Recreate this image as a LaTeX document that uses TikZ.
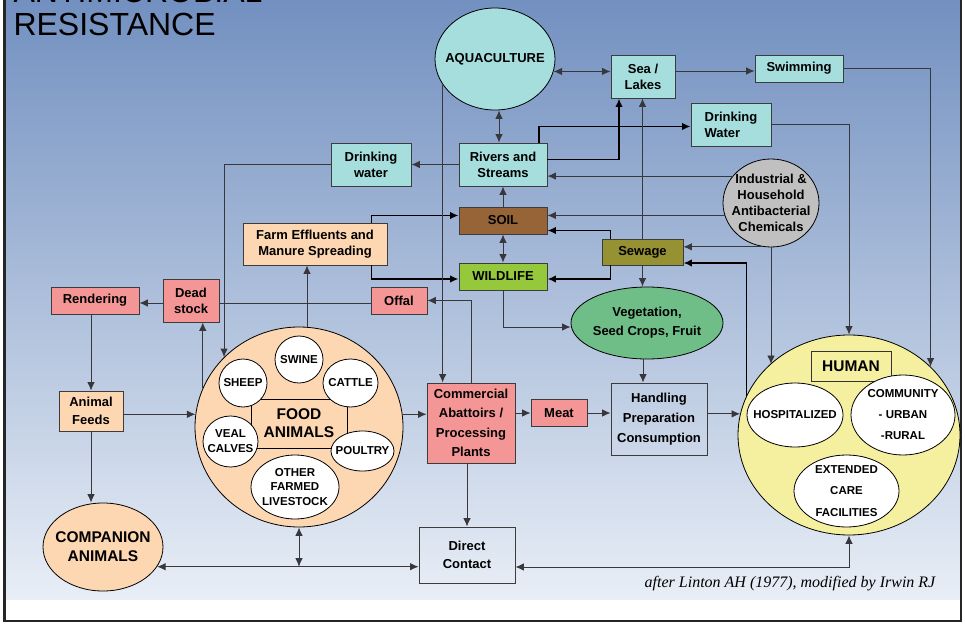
\documentclass[tikz,border=0pt]{standalone}
\usepackage{fontspec}
\setmainfont{Liberation Sans}
\newfontfamily\creditfont{Liberation Serif}
\usetikzlibrary{arrows.meta,positioning,shapes.geometric}

\definecolor{bgtop}{RGB}{114,144,192}
\definecolor{bgbot}{RGB}{232,238,246}
\definecolor{boxline}{RGB}{60,60,60}
\definecolor{linkgray}{RGB}{55,55,60}
\definecolor{cyanfill}{RGB}{166,221,221}
\definecolor{pinkfill}{RGB}{245,150,150}
\definecolor{peachfill}{RGB}{252,215,178}
\definecolor{soilfill}{RGB}{150,100,55}
\definecolor{sewfill}{RGB}{150,145,50}
\definecolor{wildfill}{RGB}{150,200,60}
\definecolor{vegfill}{RGB}{112,190,135}
\definecolor{indfill}{RGB}{192,192,192}
\definecolor{humfill}{RGB}{245,240,160}

\begin{document}
\begin{tikzpicture}[x=1pt, y=-1pt,
    box/.style={rectangle, draw=boxline, line width=0.9pt, inner sep=0pt,
        align=center, font=\bfseries\fontsize{13}{16}\selectfont},
    oval/.style={ellipse, draw=black, line width=0.8pt, inner sep=-40pt,
        align=center, font=\bfseries\fontsize{13}{16}\selectfont},
    animal/.style={oval, fill=white,
        font=\bfseries\fontsize{11.5}{14.5}\selectfont},
    link/.style={draw=linkgray, line width=0.9pt,
        -{Latex[length=8.5pt,width=7.5pt]}},
    twoway/.style={link, {Latex[length=8.5pt,width=7.5pt]}-{Latex[length=8.5pt,width=7.5pt]}},
    heavy/.style={link, draw=black, line width=1.8pt},
    ]

    \useasboundingbox (0,0) rectangle (965,628);
    \clip (0,0) rectangle (965,628);
    \fill[white] (0,0) rectangle (965,628);
    \shade[top color=bgtop, bottom color=bgbot] (5,0) rectangle (960,599);
    \draw[line width=2.2pt, black!85] (4.5,0) -- (4.5,621) -- (961,621) -- (961,0);

    \node[anchor=base west, font=\fontsize{32}{34}\selectfont] (title) at (10,3) {ANTIMICROBIAL};
    \node[anchor=base west, font=\fontsize{32}{34}\selectfont] (title2) at (10,36) {RESISTANCE};

    % water
    \node[oval, fill=cyanfill, minimum width=120pt, minimum height=102pt] (aqua) at (495,59) {AQUACULTURE};
    \node[box, fill=cyanfill, minimum width=64pt, minimum height=43pt] (sea) at (643,76.5) {Sea /\\Lakes};
    \node[box, fill=cyanfill, minimum width=88pt, minimum height=27pt] (swim) at (799,68.5) {Swimming};
    \node[box, fill=cyanfill, minimum width=80pt, minimum height=43pt, align=left] (dwr) at (731,124.5) {Drinking\\Water};
    \node[box, fill=cyanfill, minimum width=88pt, minimum height=43pt] (rivers) at (503,164.5) {Rivers and\\Streams};
    \node[box, fill=cyanfill, minimum width=80pt, minimum height=43pt] (dwl) at (371,164.5) {Drinking\\water};
    \node[oval, fill=indfill, minimum width=96pt, minimum height=88pt] (ind) at (771,203) {Industrial \&\\Household\\Antibacterial\\Chemicals};

    % environment
    \node[box, fill=soilfill, minimum width=88pt, minimum height=27pt] (soil) at (503,220.5) {SOIL};
    \node[box, fill=sewfill, minimum width=81pt, minimum height=26pt] (sewage) at (642.5,252) {Sewage};
    \node[box, fill=wildfill, minimum width=88pt, minimum height=27pt] (wild) at (503,276.5) {WILDLIFE};
    \node[box, fill=peachfill, minimum width=144pt, minimum height=42pt] (farm) at (315,244) {Farm Effluents and\\Manure Spreading};
    \node[box, fill=pinkfill, minimum width=88pt, minimum height=27pt] (rend) at (95,300.5) {Rendering};
    \node[box, fill=pinkfill, minimum width=56pt, minimum height=43pt] (dead) at (191,300.5) {Dead\\stock};
    \node[box, fill=pinkfill, minimum width=56pt, minimum height=27pt] (offal) at (399,300.5) {Offal};
    \node[oval, fill=vegfill, minimum width=152pt, minimum height=72pt,
        font=\bfseries\fontsize{13}{19}\selectfont] (veg) at (647,323) {Vegetation,\\Seed Crops, Fruit};

    % food animals
    \node[oval, fill=peachfill, minimum width=208pt, minimum height=200pt] (food) at (299,427) {};
    \node[draw=black, line width=0.8pt, inner sep=0pt, minimum width=96pt, minimum height=49pt,
        align=center, font=\bfseries\fontsize{15.5}{18}\selectfont] (foodlbl) at (299,423.5) {FOOD\\ANIMALS};
    \node[animal, minimum width=48pt, minimum height=47pt] (swine) at (299,359.5) {SWINE};
    \node[animal, minimum width=48pt, minimum height=48pt] (sheep) at (243,383) {SHEEP};
    \node[animal, minimum width=55pt, minimum height=48pt] (cattle) at (350.5,383) {CATTLE};
    \node[animal, minimum width=55pt, minimum height=51pt, font=\bfseries\fontsize{11.5}{15}\selectfont] (veal) at (230.5,441.5) {VEAL\\CALVES};
    \node[animal, minimum width=63pt, minimum height=40pt] (poultry) at (362.5,451) {POULTRY};
    \node[animal, minimum width=88pt, minimum height=64pt] (other) at (295,487) {OTHER\\FARMED\\LIVESTOCK};

    \node[box, fill=peachfill, minimum width=64pt, minimum height=40pt,
        font=\bfseries\fontsize{13}{18}\selectfont] (feeds) at (91,411) {Animal\\Feeds};
    \node[oval, fill=peachfill, minimum width=120pt, minimum height=88pt,
        font=\bfseries\fontsize{15.5}{19}\selectfont] (comp) at (103,547) {COMPANION\\ANIMALS};
    \node[box, fill=pinkfill, minimum width=88pt, minimum height=80pt,
        font=\bfseries\fontsize{13}{19.5}\selectfont] (abat) at (471,423) {Commercial\\Abattoirs /\\Processing\\Plants};
    \node[box, fill=pinkfill, minimum width=56pt, minimum height=27pt] (meat) at (559,413) {Meat};
    \node[box, minimum width=96pt, minimum height=72pt,
        font=\bfseries\fontsize{13}{20}\selectfont] (handl) at (659,419) {Handling\\Preparation\\Consumption};
    \node[box, minimum width=96pt, minimum height=56pt,
        font=\bfseries\fontsize{13}{18}\selectfont] (direct) at (467,555) {Direct\\Contact};

    % human
    \node[oval, fill=humfill, minimum width=222pt, minimum height=200pt] (human) at (849,435) {};
    \node[box, fill=humfill, draw=black!80, minimum width=80pt, minimum height=30pt,
        font=\bfseries\fontsize{15.5}{18}\selectfont] (humanlbl) at (851,366) {HUMAN};
    \node[animal, minimum width=96pt, minimum height=64pt] (hosp) at (795,415) {HOSPITALIZED};
    \node[animal, minimum width=104pt, minimum height=80pt,
        font=\bfseries\fontsize{11.5}{21}\selectfont] (comm) at (903,415) {COMMUNITY\\- URBAN\\-RURAL};
    \node[animal, minimum width=105pt, minimum height=72pt,
        font=\bfseries\fontsize{11.5}{21.5}\selectfont] (ext) at (846.5,491) {EXTENDED\\CARE\\FACILITIES};

    \node[anchor=base, font=\creditfont\itshape\fontsize{16}{19}\selectfont] (credit) at (790,587)
        {after Linton AH (1977), modified by Irwin RJ};

    % water links
    \draw[twoway] (aqua.348) -- (aqua.348 -| sea.west);
    \draw[link] ([yshift=5.5pt]sea.east) -- ([yshift=5.5pt]sea.east -| swim.west);
    \draw[link] (swim.east) -| (human.40);
    \draw[link] (dwr.east) -| (human.north);
    \draw[link] (ind.south) -- (ind.south |- human.138);
    \draw[twoway] ([xshift=-4pt]rivers.north) -- ([xshift=-4pt]rivers.north |- aqua.south);
    \draw[heavy] ([yshift=5pt]rivers.east) -| ([xshift=-24pt]sea.south);
    \draw[heavy] ([xshift=36pt]rivers.north) |- ([yshift=-2pt]dwr.west);
    \draw[link] (sewage.north) -- (sewage.north |- sea.south);
    \draw[link] (ind.145) -- (ind.145 -| rivers.east);
    \draw[link] (ind.195) -- (ind.195 -| soil.east);
    \draw[link] (ind.260) -- (ind.260 -| sewage.east);
    \draw[heavy] (human.159) |- ([yshift=-11pt]sewage.east);
    \draw[heavy] ([xshift=9pt]sewage.north west) |- ([yshift=-10pt]soil.east);
    \draw[heavy] ([xshift=9pt]sewage.south west) |- ([yshift=-2.5pt]wild.east);
    \draw[link] (soil.north) -- (rivers.south);
    \draw[twoway] (soil.south) -- (wild.north);
    \draw[link] (rivers.west) -- (dwl.east);
    \draw[link] (dwl.west) -| (food.137);

    % farm links
    \draw[heavy] ([xshift=-16pt]farm.north east) |- ([yshift=5pt]soil.west);
    \draw[heavy] ([xshift=-16pt]farm.south east) |- ([yshift=-2.5pt]wild.west);
    \draw[link] ([xshift=-8pt]farm.south |- food.north) -- ([xshift=-8pt]farm.south);
    \draw[link] (food.158) -- (food.158 |- dead.south);
    \draw[draw=linkgray, line width=0.9pt] ([yshift=-2.5pt]offal.west) -- ([yshift=-2.5pt]dead.east);
    \draw[link] ([yshift=-2.5pt]dead.west) -- ([yshift=-2.5pt]rend.east);
    \draw[link] (abat.north) |- (offal.east);
    \draw[link] (aqua.206) -- (aqua.206 |- abat.north);
    \draw[link] (feeds.north |- rend.south) -- (feeds.north);
    \draw[link] (feeds.east |- food.173) -- (food.173);
    \draw[link] (feeds.south) -- (feeds.south |- comp.north);
    \draw[link] (food.7) -- (food.7 -| abat.west);
    \draw[link] (meat.west -| abat.east) -- (meat.west);
    \draw[link] (meat.east) -- (meat.east -| handl.west);
    \draw[link] (human.169 -| handl.east) -- (human.169);
    \draw[link] (sewage.south) -- (sewage.south |- veg.north);
    \draw[link] ([xshift=-4pt]veg.south) -- ([xshift=-4pt]veg.south |- handl.north);
    \draw[link] (wild.south) |- ([yshift=-4pt]veg.west);
    \draw[link] (direct.north |- abat.south) -- (direct.north);

    % contact links
    \draw[twoway] (comp.340) -- (comp.340 -| direct.west);
    \draw[twoway] (food.south) -- (food.south |- comp.340);
    \draw[twoway] ([yshift=-12pt]direct.east) -| (human.south);
\end{tikzpicture}
\end{document}
